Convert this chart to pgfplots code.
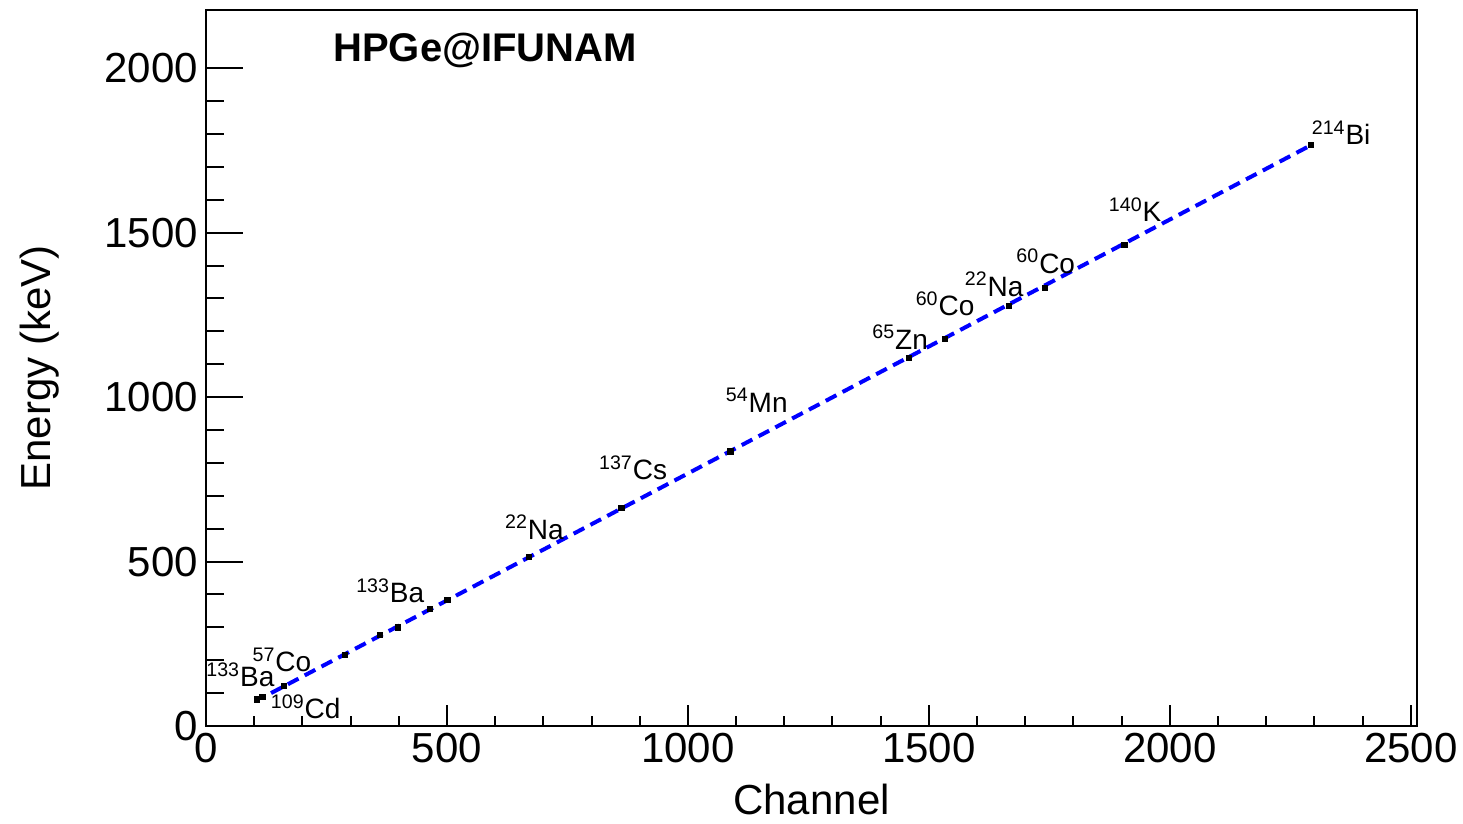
\documentclass[border=0pt]{standalone}
\usepackage{fontspec}
\setmainfont{Liberation Sans}
\usepackage{pgfplots}
\pgfplotsset{compat=1.18}
\begin{document}
\begin{tikzpicture}
\useasboundingbox (-103pt,-49pt) rectangle (628.5pt,363pt);
\begin{axis}[
  at={(0,0)}, anchor=south west,
  width=605.5pt, height=358pt, scale only axis,
  xmin=0, xmax=2513, ymin=0, ymax=2177,
  axis line style={line width=1pt},
  tick style={line width=1pt, black},
  tick align=inside,
  xtick={0,500,...,2500}, minor x tick num=4,
  xtick pos=bottom,
  ytick=\empty,
  major tick length=10.5pt, minor tick length=5pt,
  ticklabel style={font=\fontsize{21}{25}\selectfont},
  /pgf/number format/assume math mode=true,
  /pgf/number format/1000 sep={},
  scaled ticks=false,
  xlabel={Channel},
  ylabel={Energy (keV)},
  every axis x label/.style={at={(axis description cs:0.5,-0.1243)}, anchor=base, font=\fontsize{21}{25}\selectfont},
  every axis y label/.style={at={(axis description cs:-0.1288,0.5)}, rotate=90, anchor=base, font=\fontsize{21}{25}\selectfont},
  clip=false,
]
\addplot[blue, line width=2pt, dash pattern=on 6pt off 3.5pt, no marks] coordinates {(135,100) (2293,1766)};
\addplot[only marks, mark=square*, mark size=1.3pt, black] coordinates {
(105,81) (117,88) (162,122) (288,216) (361,277) (398,300) (465,356) (501,383)
(670,514) (862,662) (1088,835) (1459,1118) (1533,1177) (1666,1277) (1741,1332)
(1906,1463) (2293,1766)};
\node[anchor=base west, font=\bfseries\fontsize{20}{24}\selectfont, inner sep=0pt] at (axis description cs:0.1049,0.9274) {HPGe@IFUNAM};
\tikzset{nl/.style={anchor=base west, font=\fontsize{14}{16}\selectfont, inner sep=0pt}}
\node[nl] at (axis cs:0,120) {\textsuperscript{133}Ba};
\node[nl] at (axis cs:96,165) {\textsuperscript{57}Co};
\node[nl] at (axis cs:134,22) {\textsuperscript{109}Cd};
\node[nl] at (axis cs:311,374) {\textsuperscript{133}Ba};
\node[nl] at (axis cs:620,568) {\textsuperscript{22}Na};
\node[nl] at (axis cs:815,748) {\textsuperscript{137}Cs};
\node[nl] at (axis cs:1078,954) {\textsuperscript{54}Mn};
\node[nl] at (axis cs:1382,1146) {\textsuperscript{65}Zn};
\node[nl] at (axis cs:1472,1247) {\textsuperscript{60}Co};
\node[nl] at (axis cs:1574,1307) {\textsuperscript{22}Na};
\node[nl] at (axis cs:1681,1376) {\textsuperscript{60}Co};
\node[nl] at (axis cs:1873,1533) {\textsuperscript{140}K};
\node[nl] at (axis cs:2294,1768) {\textsuperscript{214}Bi};
\end{axis}
\begin{axis}[
  at={(0,0)}, anchor=south west,
  width=605.5pt, height=358pt, scale only axis,
  xmin=0, xmax=2513, ymin=0, ymax=2177,
  axis line style={line width=1pt},
  tick style={line width=1pt, black},
  tick align=inside,
  xtick=\empty,
  ytick={0,500,...,2000}, minor y tick num=4,
  ytick pos=left,
  major tick length=18.5pt, minor tick length=9pt,
  ticklabel style={font=\fontsize{21}{25}\selectfont},
  yticklabel style={xshift=-0.5pt},
  /pgf/number format/assume math mode=true,
  /pgf/number format/1000 sep={},
  scaled ticks=false,
]
\end{axis}
\end{tikzpicture}
\end{document}
